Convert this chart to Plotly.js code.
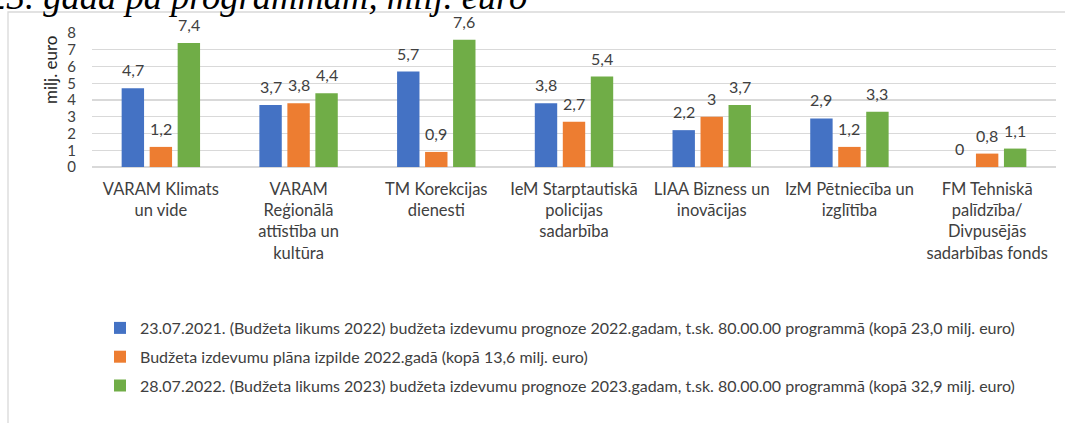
<!DOCTYPE html>
<html>
<head>
<meta charset="utf-8">
<script src="https://cdn.plot.ly/plotly-3.0.1.min.js"></script>
<style>html,body{margin:0;padding:0;background:#fff;overflow:hidden}#chart{width:1065px;height:423px}</style>
</head>
<body>
<div id="chart"></div>
<script>
const categories = [
  "VARAM Klimats<br>un vide",
  "VARAM<br>Reģionālā<br>attīstība un<br>kultūra",
  "TM Korekcijas<br>dienesti",
  "IeM Starptautiskā<br>policijas<br>sadarbība",
  "LIAA Bizness un<br>inovācijas",
  "IzM Pētniecība un<br>izglītība",
  "FM Tehniskā<br>palīdzība/<br>Divpusējās<br>sadarbības fonds"
];
const seriesNames = [
  "23.07.2021. (Budžeta likums 2022) budžeta izdevumu prognoze 2022.gadam, t.sk. 80.00.00 programmā (kopā 23,0 milj. euro)",
  "Budžeta izdevumu plāna izpilde 2022.gadā (kopā 13,6 milj. euro)",
  "28.07.2022. (Budžeta likums 2023) budžeta izdevumu prognoze 2023.gadam, t.sk. 80.00.00 programmā (kopā 32,9 milj. euro)"
];
const forecast2022 = [4.7, 3.7, 5.7, 3.8, 2.2, 2.9, 0];
const execution2022 = [1.2, 3.8, 0.9, 2.7, 3, 1.2, 0.8];
const forecast2023 = [7.4, 4.4, 7.6, 5.4, 3.7, 3.3, 1.1];
const yTicks = [0, 1, 2, 3, 4, 5, 6, 7, 8];
const titleText = "2023. gadā pa programmām, milj. euro";
const yTitle = "milj. euro";

const colors = ["#4472C4", "#ED7D31", "#70AD47"];
const font = "Lato, 'Open Sans', sans-serif";
const fmt = v => String(v).replace('.', ',');
const seriesValues = [forecast2022, execution2022, forecast2023];

const L = 92, R = 1056, T = 33, B = 167;
const W = R - L, H = B - T;
const px = x => (x - L) / W;
const py = y => (B - y) / H;
const BARGAP = 0.39;
const slot = (W / categories.length) * (1 - BARGAP) / seriesValues.length;

const traces = seriesValues.map((vals, i) => ({
  type: 'bar',
  x: categories,
  y: vals,
  name: seriesNames[i],
  legendgroup: 'g' + i,
  marker: {color: colors[i]},
  hoverinfo: 'skip'
}));

const labelAnnotations = [];
seriesValues.forEach((vals, i) => {
  vals.forEach((v, j) => {
    labelAnnotations.push({
      x: categories[j], y: v, xref: 'x', yref: 'y',
      text: fmt(v), showarrow: false,
      xanchor: 'center', yanchor: 'bottom',
      xshift: (i - (seriesValues.length - 1) / 2) * slot, yshift: 7,
      font: {family: font, size: 16, color: '#404040'}
    });
  });
});

const layout = {
  width: 1065, height: 423,
  margin: {l: L, r: 1065 - R, t: T, b: 423 - B, pad: 0},
  paper_bgcolor: '#fff', plot_bgcolor: '#fff',
  barmode: 'group', bargap: BARGAP, bargroupgap: 0.2,
  showlegend: true,
  font: {family: font, color: '#404040'},
  xaxis: {
    tickfont: {family: font, size: 16.5, color: '#404040'},
    showgrid: false, zeroline: false, showline: false,
    ticks: '', ticklabelstandoff: 10, tickangle: 0, automargin: false
  },
  yaxis: {
    range: [0, 8], tickvals: yTicks, ticktext: yTicks.map(String),
    tickfont: {family: font, size: 15, color: '#404040'},
    showgrid: true, gridcolor: '#d9d9d9', gridwidth: 1.3,
    zeroline: true, zerolinecolor: '#d9d9d9', zerolinewidth: 1.3,
    showline: false, ticks: '', ticklabelstandoff: 15, automargin: false
  },
  legend: {
    x: px(100), xanchor: 'left', y: py(311), yanchor: 'top',
    orientation: 'v', traceorder: 'grouped', tracegroupgap: 5,
    font: {family: font, size: 16, color: '#404040'},
    bgcolor: 'rgba(0,0,0,0)', itemclick: false
  },
  shapes: [{
    type: 'rect', xref: 'paper', yref: 'paper',
    x0: px(8), x1: px(1070), y0: py(440), y1: py(12),
    line: {color: '#d9d9d9', width: 1.3}, fillcolor: 'rgba(0,0,0,0)', layer: 'below'
  }],
  annotations: [
    {
      text: yTitle, xref: 'paper', yref: 'paper', x: px(50), y: py(70),
      xanchor: 'center', yanchor: 'middle', textangle: -90, showarrow: false,
      font: {family: font, size: 17, color: '#262626'}
    },
    {
      text: '<i>' + titleText + '</i>', xref: 'paper', yref: 'paper', x: px(529), y: py(-4),
      xanchor: 'right', yanchor: 'middle', showarrow: false,
      font: {family: "'Liberation Serif', 'Times New Roman', serif", size: 36.5, color: '#000'}
    }
  ].concat(labelAnnotations)
};

Plotly.newPlot('chart', traces, layout, {displayModeBar: false, staticPlot: true});
</script>
</body>
</html>
